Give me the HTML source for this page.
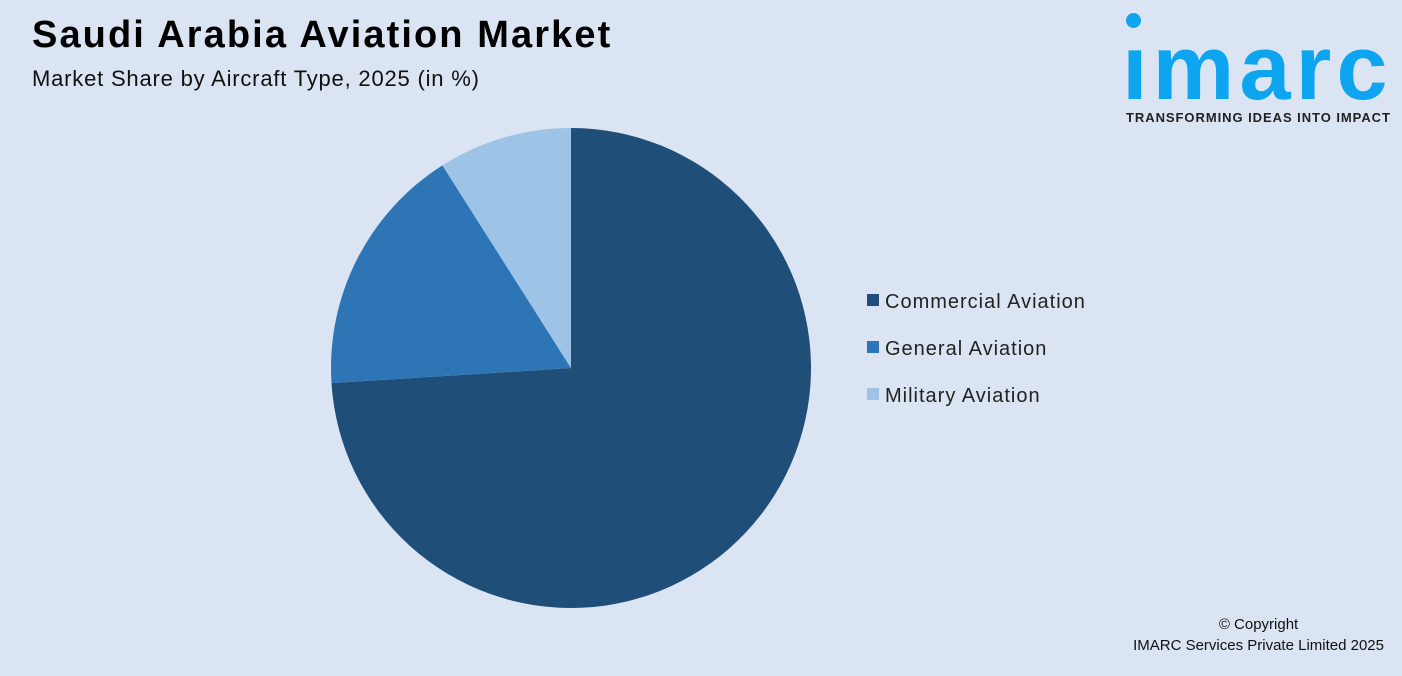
<!DOCTYPE html>
<html><head><meta charset="utf-8"><style>
body{margin:0;width:1402px;height:676px;background:#dae4f2;font-family:"Liberation Sans",sans-serif;position:relative;overflow:hidden}
.t{position:absolute;left:32px;top:14px;font-size:38px;font-weight:bold;color:#000;letter-spacing:2.1px}
.s{position:absolute;left:32px;top:66px;font-size:22px;color:#111;letter-spacing:0.8px}
.logo{position:absolute;left:1122px;top:28px;font-size:92px;font-weight:bold;color:#0ea5f0;letter-spacing:5px;line-height:80px}
.tag{position:absolute;left:1126px;top:110px;font-size:13px;font-weight:bold;color:#222;letter-spacing:0.95px}
.cp{position:absolute;right:18px;top:614px;font-size:15px;color:#111;text-align:center;line-height:21px}
</style></head><body>
<div class="t">Saudi Arabia Aviation Market</div>
<div class="s">Market Share by Aircraft Type, 2025 (in %)</div>
<div class="logo">ımarc</div>
<div style="position:absolute;left:1126px;top:13px;width:15px;height:15px;border-radius:50%;background:#0ea5f0"></div>
<div class="tag">TRANSFORMING IDEAS INTO IMPACT</div>
<svg id="c" width="1402" height="676" style="position:absolute;left:0;top:0"></svg>
<div class="cp">© Copyright<br>IMARC Services Private Limited 2025</div>
<script>
const categories=["Commercial Aviation","General Aviation","Military Aviation"];
const values=[74,17,9];
const colors=["#1f4e79","#2e75b6","#9dc3e6"];
const svg=document.getElementById('c');const NS="http://www.w3.org/2000/svg";
const cx=571,cy=368,r=240;const tot=values.reduce((a,b)=>a+b,0);let a0=0;
values.forEach((v,i)=>{const a1=a0+v/tot*2*Math.PI;
const x0=cx+r*Math.sin(a0),y0=cy-r*Math.cos(a0),x1=cx+r*Math.sin(a1),y1=cy-r*Math.cos(a1);
const p=document.createElementNS(NS,'path');
p.setAttribute('d',`M${cx},${cy}L${x0},${y0}A${r},${r} 0 ${a1-a0>Math.PI?1:0} 1 ${x1},${y1}Z`);
p.setAttribute('fill',colors[i]);


svg.appendChild(p);a0=a1;
const g=document.createElementNS(NS,'g');


const y=301+i*47;
const rc=document.createElementNS(NS,'rect');rc.setAttribute('x',867);rc.setAttribute('y',y-7);rc.setAttribute('width',12);rc.setAttribute('height',12);rc.setAttribute('fill',colors[i]);
const tx=document.createElementNS(NS,'text');tx.setAttribute('x',885);tx.setAttribute('y',y+7);tx.setAttribute('font-size',20);tx.setAttribute('letter-spacing',1);tx.setAttribute('fill','#222');tx.setAttribute('font-family','Liberation Sans, sans-serif');tx.textContent=categories[i];
g.appendChild(rc);g.appendChild(tx);svg.appendChild(g);});
</script>
</body></html>
